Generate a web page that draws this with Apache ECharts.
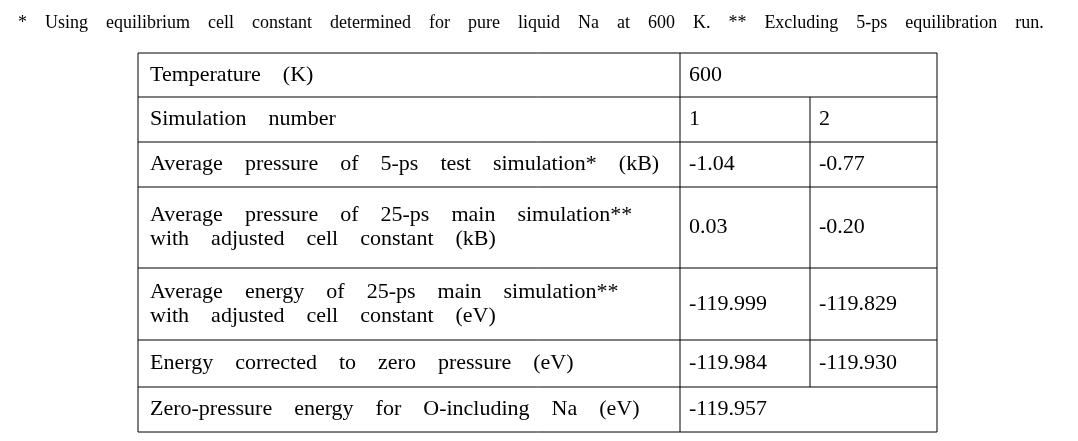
<!DOCTYPE html>
<html><head><meta charset="utf-8">
<script src="https://cdn.jsdelivr.net/npm/echarts@6/dist/echarts.min.js"></script>
<style>html,body{margin:0;padding:0;background:#fff}#c{width:1078px;height:441px}</style>
</head><body><div id="c"></div>
<script>
const caption = "* Using equilibrium cell constant determined for pure liquid Na at 600 K. ** Excluding 5-ps equilibration run.";
const labels = [
  ["Temperature (K)"],
  ["Simulation number"],
  ["Average pressure of 5-ps test simulation* (kB)"],
  ["Average pressure of 25-ps main simulation**", "with adjusted cell constant (kB)"],
  ["Average energy of 25-ps main simulation**", "with adjusted cell constant (eV)"],
  ["Energy corrected to zero pressure (eV)"],
  ["Zero-pressure energy for O-including Na (eV)"]
];
const sim1 = ["600", "1", "-1.04", "0.03", "-119.999", "-119.984", "-119.957"];
const sim2 = [null, "2", "-0.77", "-0.20", "-119.829", "-119.930", null];

const rowEdges = [53, 97, 142, 187, 268, 340, 387, 432];
const colEdges = [138, 680, 810, 937];
const font = '"Liberation Serif","DejaVu Serif",serif';
const wide = s => s.split(' ').join('    ');
const g = [];
g.push({type:'text', x:18, y:23, style:{text:wide(caption), font:'18px '+font, fill:'#000', verticalAlign:'middle'}});
function line(x1,y1,x2,y2){g.push({type:'line',shape:{x1,y1,x2,y2},style:{stroke:'#000',lineWidth:1}});}
for (const y of rowEdges) line(colEdges[0], y, colEdges[3], y);
line(colEdges[0], rowEdges[0], colEdges[0], rowEdges[7]);
line(colEdges[3], rowEdges[0], colEdges[3], rowEdges[7]);
line(colEdges[1], rowEdges[0], colEdges[1], rowEdges[7]);
line(colEdges[2], rowEdges[1], colEdges[2], rowEdges[6]);
function txt(x, yc, lines){
  g.push({type:'text', x:x, y:yc, style:{text:lines.map(wide).join('\n'), font:'22px '+font, fill:'#000', verticalAlign:'middle', lineHeight:24}});
}
labels.forEach((l,i)=>{
  const yc=(rowEdges[i]+rowEdges[i+1])/2;
  txt(colEdges[0]+12, yc, l);
  if (sim1[i]!==null) txt(colEdges[1]+9, yc, [sim1[i]]);
  if (sim2[i]!==null) txt(colEdges[2]+9, yc, [sim2[i]]);
});
const chart = echarts.init(document.getElementById('c'));
chart.setOption({animation:false, graphic:g});
</script></body></html>
